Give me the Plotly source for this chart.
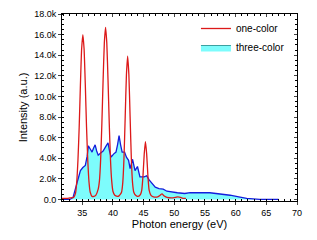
import plotly.graph_objects as go

# one-color spectrum (photon energy eV, intensity)
one_x = [31.7, 32.5, 33.0, 33.6, 33.9, 34.1, 34.3, 34.5, 34.7, 34.9, 35.1, 35.3, 35.5, 35.7,
         35.9, 36.1, 36.3, 36.6, 36.9, 37.2, 37.6, 37.8, 38.0, 38.2, 38.4, 38.6, 38.8, 39.0,
         39.2, 39.4, 39.6, 39.8, 40.0, 40.3, 40.7, 41.0, 41.2, 41.4, 41.6, 41.8, 42.0, 42.2,
         42.4, 42.6, 42.8, 43.0, 43.2, 43.4, 43.7, 44.1, 44.5, 44.7, 44.9, 45.1, 45.3, 45.5,
         45.7, 45.9, 46.2, 46.6, 47.3, 47.7, 48.0, 48.3, 48.8, 49.5, 50.2, 50.6, 51.0, 51.5, 51.9]
one_y = [100, 100, 150, 200, 600, 1700, 3800, 7000, 11100, 14600, 16000, 14600, 11100, 7000,
         3800, 1700, 700, 300, 300, 400, 1000, 1800, 3900, 7400, 11600, 15200, 16700, 15200,
         11600, 7400, 3900, 1800, 800, 400, 300, 350, 500, 700, 1600, 4000, 8000, 12100,
         13900, 12100, 8000, 4000, 1600, 700, 400, 300, 500, 900, 2300, 4400, 5600, 4400,
         2300, 900, 400, 250, 250, 400, 550, 350, 200, 150, 200, 250, 200, 100, 100]

# three-color spectrum
three_x = [31.7, 33.0, 33.5, 33.9, 34.3, 34.7, 35.1, 35.5, 35.8, 36.0, 36.3, 36.6, 36.85, 37.1,
           37.35, 37.6, 38.0, 38.4, 38.8, 39.2, 39.45, 39.7, 40.1, 40.5, 40.75, 41.0, 41.25,
           41.5, 41.9, 42.2, 42.55, 42.8, 43.2, 43.6, 44.0, 44.4, 45.1, 45.5, 45.9, 46.4, 46.9,
           47.5, 48.2, 48.8, 49.3, 50.5, 51.7, 52.6, 55.8, 57.5, 59.1, 60.5, 61.8, 63.9, 67.0]
three_y = [0, 0, 200, 1100, 2000, 2800, 3100, 3300, 4200, 5200, 4900, 4600, 5000, 5300,
           4700, 4300, 4500, 4700, 5100, 5500, 4700, 4100, 4400, 4600, 5300, 6200, 5300,
           4600, 4600, 4100, 3800, 3000, 3900, 2800, 3200, 2200, 2200, 2300, 1900, 1600, 1200,
           1050, 1000, 800, 740, 650, 580, 670, 650, 550, 410, 250, 100, 0, 0]

y_tickvals = [0, 2000, 4000, 6000, 8000, 10000, 12000, 14000, 16000, 18000]
y_ticktext = ["0.0", "2.0k", "4.0k", "6.0k", "8.0k", "10.0k", "12.0k", "14.0k", "16.0k", "18.0k"]
x_tickvals = [35, 40, 45, 50, 55, 60, 65, 70]

XR = [31.7, 70]
YR = [-150, 18000]
FONT = "Liberation Sans, Arial, sans-serif"
CYAN = "rgb(125,252,252)"

fig = go.Figure()
fig.add_trace(go.Scatter(
    x=three_x, y=three_y, name="three-color", mode="lines",
    line=dict(color="rgb(20,30,220)", width=1.3),
    fill="tozeroy", fillcolor=CYAN, showlegend=False))
fig.add_trace(go.Scatter(
    x=one_x, y=one_y, name="one-color", mode="lines",
    line=dict(color="rgb(220,25,25)", width=1.3, shape="spline", smoothing=0.5),
    legendrank=1))
# legend-only swatch for three-color (filled box)
fig.add_trace(go.Scatter(
    x=[None], y=[None], name="three-color", mode="lines", fill="toself",
    fillcolor=CYAN, line=dict(color="rgb(60,160,160)", width=1), legendrank=2))
# dummy trace to activate mirrored axes
fig.add_trace(go.Scatter(x=[None], y=[None], xaxis="x2", yaxis="y2",
                         showlegend=False, hoverinfo="skip"))

common = dict(showline=True, linecolor="black", linewidth=1, showgrid=False, zeroline=False,
              automargin=False)
fig.update_layout(
    width=317, height=240,
    margin=dict(l=62, r=20, t=14, b=39),
    paper_bgcolor="white", plot_bgcolor="white",
    font=dict(family=FONT, size=9, color="black"),
    xaxis=dict(range=XR, tickvals=x_tickvals, ticks="outside", ticklen=3,
               minor=dict(dtick=1, ticks="inside", ticklen=2, tickcolor="black"),
               title=dict(text="Photon energy (eV)", font=dict(size=11), standoff=3),
               **common),
    yaxis=dict(range=YR, tickvals=y_tickvals, ticktext=y_ticktext, ticks="outside", ticklen=3,
               minor=dict(dtick=500, ticks="inside", ticklen=2, tickcolor="black"),
               title=dict(text="Intensity (a.u.)", font=dict(size=11), standoff=4),
               **common),
    xaxis2=dict(range=XR, overlaying="x", side="top", anchor="y2", tickvals=x_tickvals,
                ticks="inside", ticklen=3, showticklabels=False,
                minor=dict(dtick=1, ticks="inside", ticklen=2, tickcolor="black"), **common),
    yaxis2=dict(range=YR, overlaying="y", side="right", anchor="x2", tickvals=y_tickvals,
                ticks="inside", ticklen=3, showticklabels=False,
                minor=dict(dtick=500, ticks="inside", ticklen=2, tickcolor="black"), **common),
    legend=dict(x=0.97, y=1.0, xanchor="right", yanchor="top", bgcolor="rgba(0,0,0,0)",
                font=dict(size=10), tracegroupgap=0, itemwidth=30),
    showlegend=True,
)
fig.write_html("out.html", config={"displayModeBar": False},
               post_script="document.body.style.margin='0';")
